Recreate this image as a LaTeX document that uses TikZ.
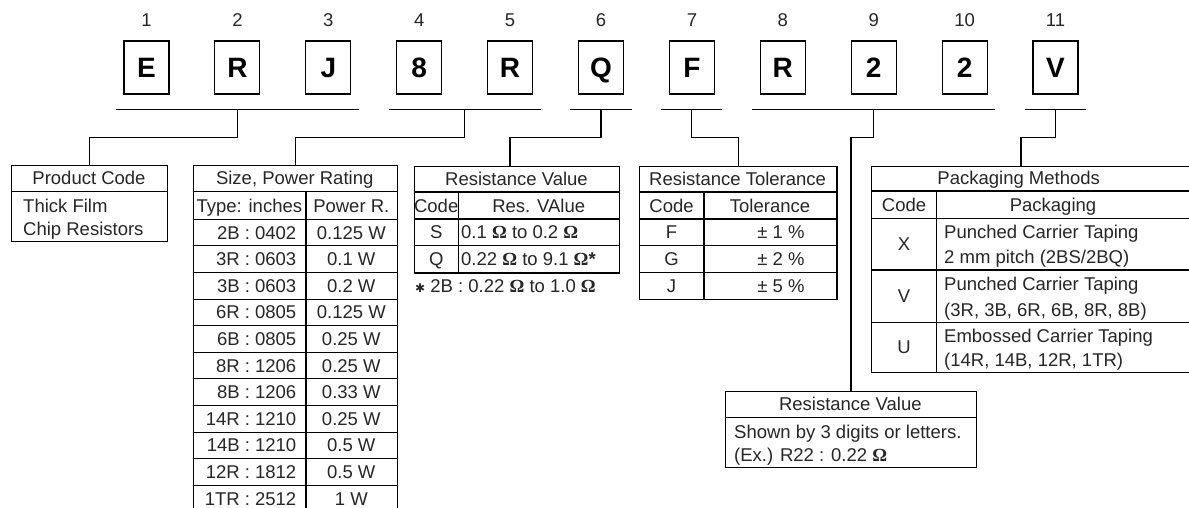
\documentclass[tikz,border=0pt]{standalone}
\usepackage{fontspec}
\setmainfont{Liberation Sans}
\newfontfamily\omfont{Liberation Serif}
\newfontfamily\symfont{DejaVu Sans}
\newcommand{\ohmsym}{{\omfont\bfseries Ω}}
\usetikzlibrary{positioning,calc}

\tikzset{
  chr/.style={draw,line width=1.1pt,minimum width=45pt,minimum height=53pt,inner sep=0pt,text height=20pt,text depth=0pt,font=\fontsize{28}{30}\selectfont\bfseries},
  lbl/.style={inner sep=0pt,text height=13pt,text depth=0pt,text=black!85,font=\fontsize{18.5}{20}\selectfont},
  lft/.style={lbl,anchor=west},
  rgt/.style={lbl,anchor=east},
  tbl/.style={draw,line width=1.3pt,inner sep=0pt,anchor=north west},
  wire/.style={line width=1.1pt},
}

\begin{document}
\begin{tikzpicture}[x=1pt,y=-1pt]
\path[use as bounding box,fill=white] (0,0) rectangle (1189,508);

% part number
\foreach \c [count=\i] in {E,R,J,8,R,Q,F,R,2,2,V}{
  \node[chr] (d\i) at ({146.5+(\i-1)*90.9},67.5) {\c};
  \node[lbl] (n\i) at ({146.5+(\i-1)*90.9},20.5) {\i};
}
\foreach \a/\b in {1/3,4/5,6/6,7/7,8/10,11/11}
  \draw[wire] ($(d\a.south west)+(-7.5,15)$) -- ($(d\b.south east)+(7.5,15)$);

% tables
\node[tbl,minimum width=156pt,minimum height=76pt] (prod) at (11,165) {};
\node[tbl,minimum width=204pt,minimum height=347pt] (size) at (192.7,165) {};
\node[tbl,minimum width=205pt,minimum height=106.6pt] (resv) at (414,165.7) {};
\node[tbl,minimum width=197.3pt,minimum height=133.3pt] (tol) at (639,165.7) {};
\node[tbl,minimum width=330pt,minimum height=206pt] (pack) at (871,165.7) {};
\node[tbl,minimum width=250.7pt,minimum height=75.7pt] (rval) at (725,391) {};

% product code
\draw[wire] ([yshift=-26.7pt]prod.north west) -- ([yshift=-26.7pt]prod.north east);
\node[lbl] (pc-t) at (89,178.3) {Product Code};
\node[lft] (pc-1) at (23,206) {Thick Film};
\node[lft] (pc-2) at (23,229) {Chip Resistors};

% size, power rating
\draw[wire] ([yshift=-26.7pt]size.north west) -- ([yshift=-26.7pt]size.north east);
\foreach \k in {0,...,10}
  \draw[wire] ([yshift=-54.3pt-\k*26.6pt]size.north west) -- ([yshift=-54.3pt-\k*26.6pt]size.north east);
\draw[wire] ([xshift=113.3pt,yshift=-26.7pt]size.north west) -- ([xshift=113.3pt]size.south west);
\node[lbl] (sz-t) at (294.7,178.3) {Size, Power Rating};
\node[lbl] (sz-h1) at (249.3,205.8) {Type: inches};
\node[lbl] (sz-h2) at (351.3,205.8) {Power R.};
\foreach \ty/\pw [count=\k] in {2B : 0402/0.125 W,3R : 0603/0.1 W,3B : 0603/0.2 W,6R : 0805/0.125 W,6B : 0805/0.25 W,8R : 1206/0.25 W,8B : 1206/0.33 W,14R : 1210/0.25 W,14B : 1210/0.5 W,12R : 1812/0.5 W,1TR : 2512/1 W}{
  \node[rgt] (sz-a\k) at (296.5,{232.6+26.6*(\k-1)}) {\ty};
  \node[lbl] (sz-b\k) at (351.3,{232.6+26.6*(\k-1)}) {\pw};
}

% resistance value
\foreach \h in {26.3,53.3,80}
  \draw[wire] ([yshift=-\h pt]resv.north west) -- ([yshift=-\h pt]resv.north east);
\draw[wire] ([xshift=44.3pt,yshift=-26.3pt]resv.north west) -- ([xshift=44.3pt]resv.south west);
\node[lbl] (rv-t) at (516.5,179) {Resistance Value};
\node[lbl] (rv-h1) at (436.2,205.5) {Code};
\node[lbl] (rv-h2) at (538.7,205.5) {Res. VAlue};
\node[lbl] (rv-c1) at (436.2,232.3) {S};
\node[lbl] (rv-c2) at (436.2,259) {Q};
\node[lft] (rv-v1) at (461,232.3) {0.1 \ohmsym{} to 0.2 \ohmsym};
\node[lft] (rv-v2) at (461,259) {0.22 \ohmsym{} to 9.1 \ohmsym\textbf{*}};
\node[lft] (rv-n) at (415,285.5) {{\symfont\fontsize{12}{12}\selectfont ✱} 2B : 0.22 \ohmsym{} to 1.0 \ohmsym};

% resistance tolerance
\foreach \h in {26.3,53.3,80,106.6}
  \draw[wire] ([yshift=-\h pt]tol.north west) -- ([yshift=-\h pt]tol.north east);
\draw[wire] ([xshift=65pt,yshift=-26.3pt]tol.north west) -- ([xshift=65pt]tol.south west);
\node[lbl] (tl-t) at (737.6,179) {Resistance Tolerance};
\node[lbl] (tl-h1) at (671.5,205.5) {Code};
\node[lbl] (tl-h2) at (770,205.5) {Tolerance};
\foreach \c/\v [count=\k] in {F/1,G/2,J/5}{
  \node[lbl] (tl-c\k) at (671.5,{205.6+26.7*\k}) {\c};
  \node[lbl] (tl-v\k) at (781,{205.6+26.7*\k}) {± \v\ \%};
}

% packaging methods
\foreach \h in {25.3,52.6,104.3,156.6}
  \draw[wire] ([yshift=-\h pt]pack.north west) -- ([yshift=-\h pt]pack.north east);
\draw[wire] ([xshift=65.7pt,yshift=-25.3pt]pack.north west) -- ([xshift=65.7pt]pack.south west);
\node[lbl] (pk-t) at (1018.7,178.5) {Packaging Methods};
\node[lbl] (pk-h1) at (904,204.7) {Code};
\node[lbl] (pk-h2) at (1053,204.7) {Packaging};
\node[lbl] (pk-c1) at (904,244.2) {X};
\node[lbl] (pk-c2) at (904,296.2) {V};
\node[lbl] (pk-c3) at (904,347) {U};
\node[lft] (pk-a1) at (944,231.5) {Punched Carrier Taping};
\node[lft] (pk-b1) at (944,257) {2 mm pitch (2BS/2BQ)};
\node[lft] (pk-a2) at (944,284) {Punched Carrier Taping};
\node[lft] (pk-b2) at (944,309.5) {(3R, 3B, 6R, 6B, 8R, 8B)};
\node[lft] (pk-a3) at (944,335.5) {Embossed Carrier Taping};
\node[lft] (pk-b3) at (944,360) {(14R, 14B, 12R, 1TR)};

% resistance value (digits)
\draw[wire] ([yshift=-26.5pt]rval.north west) -- ([yshift=-26.5pt]rval.north east);
\node[lbl] (rd-t) at (850.3,404.2) {Resistance Value};
\node[lft] (rd-1) at (734,431.5) {Shown by 3 digits or letters.};
\node[lft] (rd-2) at (734,455) {(Ex.) R22 : 0.22 \ohmsym};

% connectors
\coordinate (resvin) at ($(resv.north west)+(96,0)$);
\coordinate (packin) at ($(pack.north west)+(150,0)$);
\coordinate (u1) at ($(d2.south)+(0,15)$);
\coordinate (u2) at ($(d4.south)!.5!(d5.south)+(0,15)$);
\coordinate (u3) at ($(d6.south)+(0,15)$);
\coordinate (u4) at ($(d7.south)+(0,15)$);
\coordinate (u5) at ($(d9.south)+(0,15)$);
\coordinate (u6) at ($(d11.south)+(0,15)$);
\draw[wire] (u1) -- ++(0,28) -| (prod.north);
\draw[wire] (u2) -- ++(0,28) -| (size.north);
\draw[wire] (u3) -- ++(0,28) -| (resvin);
\draw[wire] (u4) -- ++(0,28) -| (tol.north);
\draw[wire] (u5) -- ++(0,28) -| (rval.north);
\draw[wire] (u6) -- ++(0,28) -| (packin);
\end{tikzpicture}
\end{document}
